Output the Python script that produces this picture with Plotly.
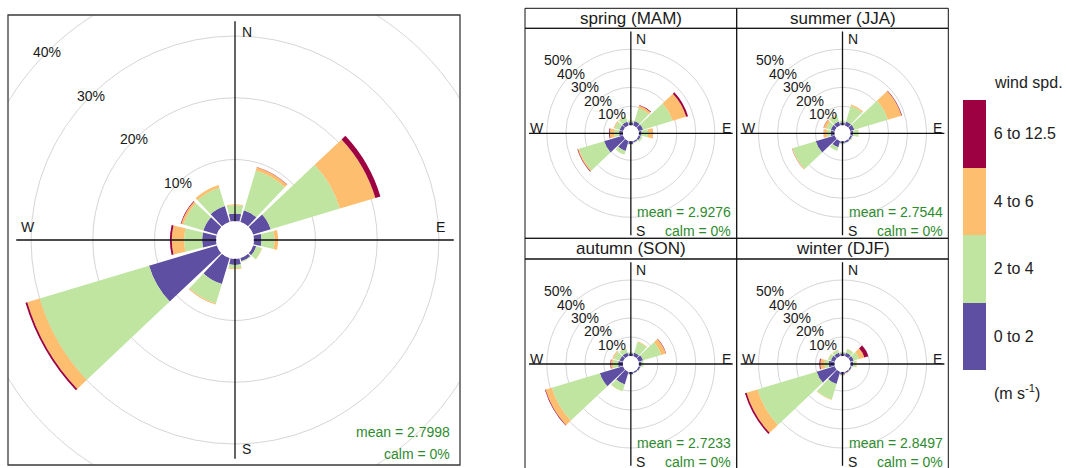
import plotly.graph_objects as go

W, H = 1066, 468
FONT = "Liberation Sans, Arial, sans-serif"

# direction sectors (degrees, clockwise from north)
directions = [30, 60, 90, 120, 150, 180, 210, 240, 270, 300, 330, 360]
speed_bins = ["0 to 2", "2 to 4", "4 to 6", "6 to 12.5"]
bin_colours = ["#5E4FA2", "#BFE5A0", "#FDBF6F", "#9E0142"]

# frequency (%) by direction for each wind speed bin -- whole record
all_0_2 = [2.0, 3.0, 1.25, 0.55, 0.55, 1.0, 4.4, 11.5, 2.3, 2.3, 2.7, 1.25]
all_2_4 = [6.7, 11.7, 2.1, 0.95, 0.15, 0.55, 3.3, 18.5, 2.9, 3.35, 3.1, 1.35]
all_4_6 = [0.55, 6.0, 0.6, 0.05, 0.0, 0.15, 0.15, 2.1, 2.0, 0.4, 0.45, 0.15]
all_6_12 = [0.05, 0.85, 0.0, 0.0, 0.0, 0.0, 0.03, 0.3, 0.3, 0.1, 0.02, 0.0]

# seasonal frequencies (%)
spring_0_2 = [2.5, 2.5, 1.5, 1.2, 0.8, 1.5, 5.5, 10.5, 2.0, 2.0, 2.2, 1.6]
spring_2_4 = [7.2, 16.2, 3.4, 1.0, 0.3, 0.3, 2.0, 13.8, 2.5, 2.7, 2.8, 0.9]
spring_4_6 = [1.3, 7.5, 2.6, 0.0, 0.0, 0.0, 0.1, 0.6, 2.4, 0.5, 0.3, 0.1]
spring_6_12 = [0.3, 1.0, 0.05, 0.0, 0.0, 0.0, 0.0, 0.3, 0.4, 0.05, 0.0, 0.0]

summer_0_2 = [2.3, 2.3, 1.5, 1.0, 1.0, 1.2, 3.5, 10.5, 2.0, 2.2, 2.3, 1.5]
summer_2_4 = [8.5, 18.4, 2.8, 0.5, 0.2, 0.4, 2.0, 12.7, 2.0, 2.5, 3.5, 1.0]
summer_4_6 = [0.8, 7.5, 0.1, 0.0, 0.0, 0.0, 0.05, 0.3, 1.8, 1.5, 0.3, 0.0]
summer_6_12 = [0.05, 0.3, 0.0, 0.0, 0.0, 0.0, 0.0, 0.1, 0.05, 0.1, 0.0, 0.0]

autumn_0_2 = [2.0, 2.5, 1.5, 1.0, 0.8, 1.2, 7.0, 12.8, 2.5, 2.0, 2.0, 1.5]
autumn_2_4 = [5.9, 10.0, 1.0, 0.3, 0.1, 0.3, 3.8, 26.4, 2.8, 3.2, 2.5, 0.5]
autumn_4_6 = [0.4, 2.5, 0.0, 0.0, 0.0, 0.0, 0.1, 3.5, 1.0, 0.6, 0.1, 0.0]
autumn_6_12 = [0.05, 0.2, 0.0, 0.0, 0.0, 0.0, 0.0, 0.3, 0.3, 0.05, 0.0, 0.0]

winter_0_2 = [2.0, 2.0, 1.5, 0.8, 0.8, 1.5, 6.8, 10.0, 3.0, 2.2, 2.0, 1.5]
winter_2_4 = [2.0, 3.0, 1.5, 0.3, 0.1, 0.3, 8.5, 32.5, 2.2, 1.5, 1.5, 0.6]
winter_4_6 = [0.1, 2.8, 0.3, 0.0, 0.2, 0.1, 0.3, 6.0, 2.3, 0.2, 0.2, 0.0]
winter_6_12 = [0.0, 2.2, 0.0, 0.0, 0.0, 0.0, 0.0, 0.9, 0.5, 0.0, 0.0, 0.0]

panel_titles = ["spring (MAM)", "summer (JJA)", "autumn (SON)", "winter (DJF)"]
mean_labels = ["2.7998", "2.9276", "2.7544", "2.7233", "2.8497"]
calm_labels = ["0%", "0%", "0%", "0%", "0%"]


def fx(x):
    return x / W


def fy(y):
    return 1 - y / H


def totals(bins):
    return [sum(v) for v in zip(*bins)]


all_bins = [all_0_2, all_2_4, all_4_6, all_6_12]
season_bins = [
    [spring_0_2, spring_2_4, spring_4_6, spring_6_12],
    [summer_0_2, summer_2_4, summer_4_6, summer_6_12],
    [autumn_0_2, autumn_2_4, autumn_4_6, autumn_6_12],
    [winter_0_2, winter_2_4, winter_4_6, winter_6_12],
]

all_max = max(totals(all_bins))
season_max = max(max(totals(b)) for b in season_bins)

# facet frame (pixels)
col_x = [525, 736.7, 948.3]
row_y = [8.3, 28.3, 238.3, 259.0, 469.0]
facet_cx = [(col_x[0] + col_x[1]) / 2, (col_x[1] + col_x[2]) / 2]
facet_cy = [(row_y[1] + row_y[2]) / 2, (row_y[3] + row_y[4]) / 2]

panels = [dict(bins=all_bins, cx=235, cy=240, R=228, hole=18.8, rmax=33.9,
               rings=[10, 20, 30], labels=[10, 20, 30, 40], reach=all_max,
               big=True, mean=mean_labels[0], calm=calm_labels[0])]
for i, b in enumerate(season_bins):
    panels.append(dict(bins=b, cx=facet_cx[i % 2], cy=facet_cy[i // 2], R=103.5,
                       hole=8.0, rmax=50.26, rings=[10, 20, 30, 40, 50],
                       labels=[10, 20, 30, 40, 50], reach=season_max, big=False,
                       mean=mean_labels[i + 1], calm=calm_labels[i + 1],
                       title=panel_titles[i]))


def rpx(p, pct):
    return p["hole"] + pct * (p["R"] - p["hole"]) / p["rmax"]


discrete_scale = []
for k, c in enumerate(bin_colours):
    discrete_scale += [[k / 4, c], [(k + 1) / 4, c]]

fig = go.Figure()
layout = dict(width=W, height=H, margin=dict(l=0, r=0, t=0, b=0),
              paper_bgcolor="white", plot_bgcolor="white", showlegend=False,
              font=dict(family=FONT, color="#1a1a1a"))
shapes = []
annotations = []
GREEN = "#2E8B2E"

for idx, p in enumerate(panels):
    key = "polar" if idx == 0 else f"polar{idx + 1}"
    cx, cy, R = p["cx"], p["cy"], p["R"]
    layout[key] = dict(
        domain=dict(x=[fx(cx - R), fx(cx + R)], y=[max(0, fy(cy + R)), fy(cy - R)]),
        hole=p["hole"] / R,
        bgcolor="rgba(0,0,0,0)",
        barmode="stack",
        radialaxis=dict(range=[0, p["rmax"]], tickvals=p["rings"], showticklabels=False,
                        ticks="", showline=False, gridcolor="#D6D6D6", gridwidth=1),
        angularaxis=dict(direction="clockwise", rotation=90, showgrid=False,
                         showticklabels=False, ticks="", showline=False),
    )
    for k, vals in enumerate(p["bins"]):
        marker = dict(color=[k + 0.5] * len(vals), cmin=0, cmax=4,
                      colorscale=discrete_scale, line=dict(width=0))
        if idx == 0 and k == 0:
            marker.update(showscale=True, colorbar=dict(
                thickness=23, thicknessmode="pixels", len=270, lenmode="pixels",
                x=fx(963), xanchor="left", xpad=0, y=fy(235), yanchor="middle",
                ypad=0, outlinewidth=0, tickmode="array",
                tickvals=[0.5, 1.5, 2.5, 3.5], ticktext=speed_bins,
                ticks="outside", ticklen=5, tickcolor="rgba(0,0,0,0)",
                tickfont=dict(size=16, family=FONT, color="#222")))
        else:
            marker.update(showscale=False)
        fig.add_trace(go.Barpolar(r=vals, theta=directions, width=26.7, marker=marker,
                                  subplot=key, name=speed_bins[k], hoverinfo="skip"))
    # north-south / east-west axis lines
    reach = p["reach"]
    fig.add_trace(go.Scatterpolar(r=[reach, reach, None, reach, reach],
                                  theta=[0, 180, None, 90, 270], mode="lines",
                                  line=dict(color="#111", width=1.3), cliponaxis=False,
                                  subplot=key, hoverinfo="skip"))

    m = rpx(p, reach)
    big = p["big"]
    if big:
        dir_pos = [("N", cx + 5, cy - m + 11, "left"), ("S", cx + 5, cy + m - 10, "left"),
                   ("W", cx - m + 3, cy - 13, "left"), ("E", cx + m - 7, cy - 13, "right")]
    else:
        dir_pos = [("N", cx + 3, cy - m + 8, "left"), ("S", cx + 3, cy + m - 4, "left"),
                   ("W", cx - m - 1, cy - 5, "left"), ("E", cx + m, cy - 5, "right")]
    for t, x, y, anc in dir_pos:
        annotations.append(dict(text=t, x=fx(x), y=fy(y), xanchor=anc, yanchor="middle",
                                font=dict(size=14)))
    for pct in p["labels"]:
        r = rpx(p, pct) * 0.7071
        annotations.append(dict(text=f"{pct}%", x=fx(cx - r), y=fy(cy - r),
                                xanchor="center", yanchor="middle", font=dict(size=14)))
    if big:
        mx, my, cy2 = 452, 432, 454
    else:
        mx, my, cy2 = cx + 102.5, cy + 78.5, cy + 97.8
    annotations.append(dict(text=f"mean = {p['mean']}", x=fx(mx), y=fy(my), xanchor="right",
                            yanchor="middle", font=dict(size=14, color=GREEN)))
    annotations.append(dict(text=f"calm = {p['calm']}", x=fx(mx), y=fy(cy2), xanchor="right",
                            yanchor="middle", font=dict(size=14, color=GREEN)))
    if not big:
        sy = row_y[0] if cy < 240 else row_y[2]
        annotations.append(dict(text=p["title"], x=fx(cx), y=fy(sy + 10.2), xanchor="center",
                                yanchor="middle", font=dict(size=17)))

# outer grid ring of the main rose, clipped to its frame
big_p = panels[0]
r40 = rpx(big_p, 40)
shapes.append(dict(type="circle", xref="paper", yref="paper", layer="below",
                   x0=fx(big_p["cx"] - r40), x1=fx(big_p["cx"] + r40),
                   y0=fy(big_p["cy"] + r40), y1=fy(big_p["cy"] - r40),
                   line=dict(color="#D6D6D6", width=1)))
for x0, x1, y0, y1 in [(0, 8, 0, 468), (460, 522, 0, 468), (0, 522, 0, 15), (0, 522, 465, 468)]:
    shapes.append(dict(type="rect", xref="paper", yref="paper", layer="below",
                       x0=fx(x0), x1=fx(x1), y0=fy(y1), y1=fy(y0),
                       fillcolor="white", line=dict(width=0)))

# frames
shapes.append(dict(type="rect", xref="paper", yref="paper", x0=fx(8), x1=fx(460),
                   y0=fy(465), y1=fy(15), line=dict(color="#3A3A3A", width=1.3)))
for c in range(2):
    for r in range(2):
        strip_top, strip_bot = row_y[2 * r], row_y[2 * r + 1]
        pan_bot = row_y[2 * r + 2]
        shapes.append(dict(type="rect", xref="paper", yref="paper",
                           x0=fx(col_x[c]), x1=fx(col_x[c + 1]),
                           y0=fy(strip_bot), y1=fy(strip_top),
                           line=dict(color="#111", width=1)))
        shapes.append(dict(type="rect", xref="paper", yref="paper",
                           x0=fx(col_x[c]), x1=fx(col_x[c + 1]),
                           y0=fy(pan_bot), y1=fy(strip_bot),
                           line=dict(color="#111", width=1)))

# legend captions
annotations.append(dict(text="wind spd.", x=fx(992), y=fy(82), xanchor="left", yanchor="middle",
                        font=dict(size=16, color="#222")))
annotations.append(dict(text="(m s<sup>-1</sup>)", x=fx(992), y=fy(392), xanchor="left",
                        yanchor="middle", font=dict(size=16, color="#222")))

for a in annotations:
    a.update(xref="paper", yref="paper", showarrow=False)
layout["shapes"] = shapes
layout["annotations"] = annotations
fig.update_layout(**layout)
fig.write_html("out.html")
